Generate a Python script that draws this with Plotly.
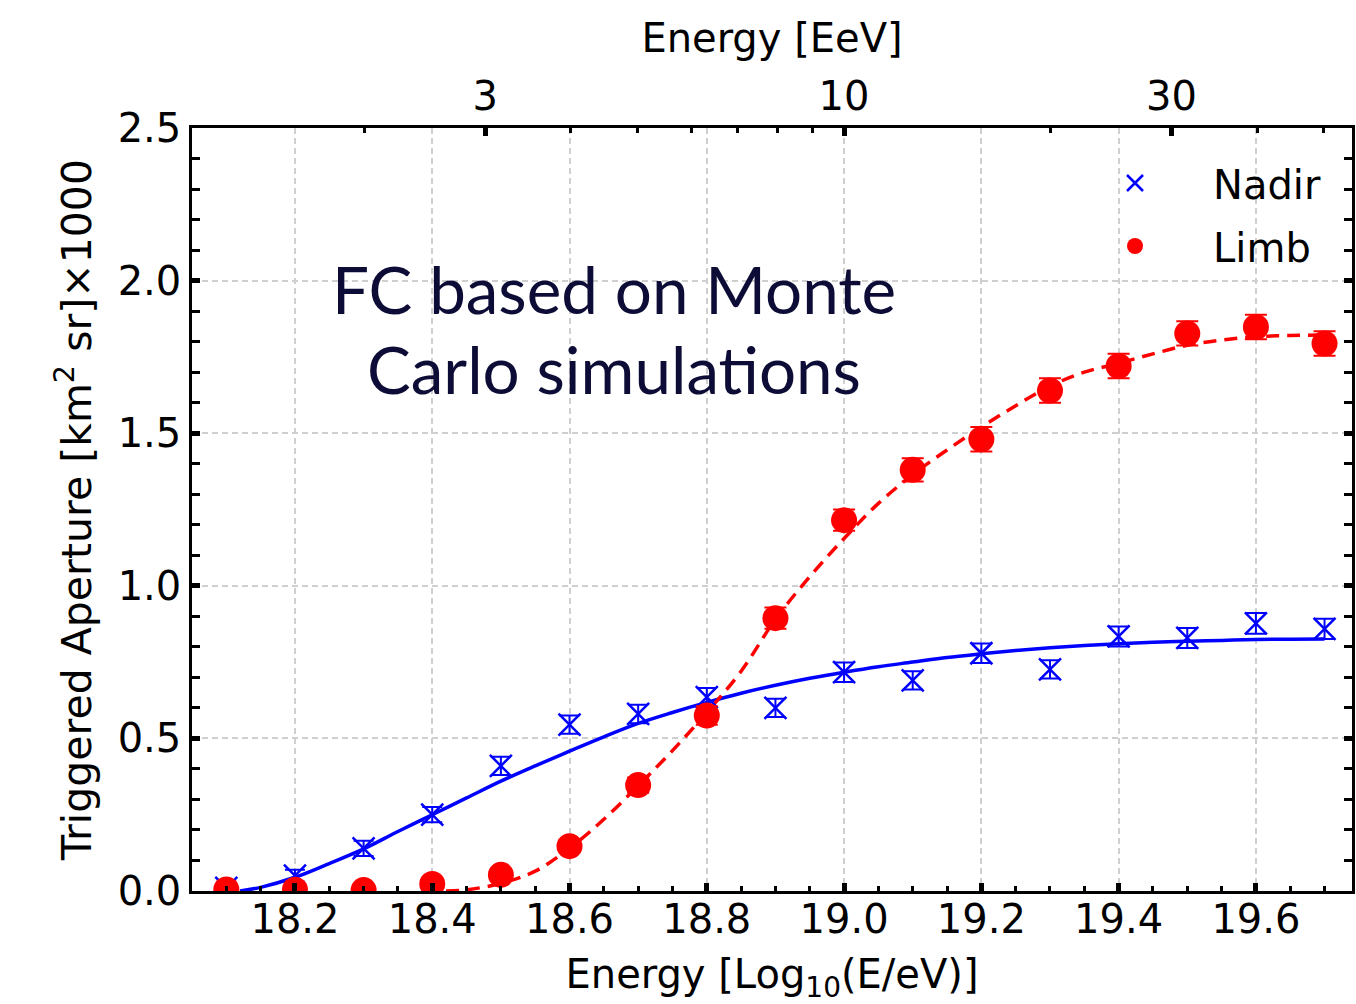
import numpy as np
import plotly.graph_objects as go

# ---------------- data ----------------
energy = [18.1, 18.2, 18.3, 18.4, 18.5, 18.6, 18.7, 18.8, 18.9,
          19.0, 19.1, 19.2, 19.3, 19.4, 19.5, 19.6, 19.7]

nadir = [0.01, 0.05, 0.14, 0.25, 0.41, 0.545, 0.58, 0.635, 0.60,
         0.717, 0.69, 0.779, 0.726, 0.834, 0.829, 0.877, 0.859]
nadir_err = [0.02, 0.02, 0.025, 0.025, 0.03, 0.03, 0.03, 0.03, 0.03,
             0.032, 0.03, 0.032, 0.03, 0.033, 0.033, 0.034, 0.033]

limb = [0.005, 0.004, 0.003, 0.023, 0.053, 0.147, 0.347, 0.575, 0.894,
        1.215, 1.38, 1.48, 1.64, 1.72, 1.827, 1.848, 1.794]
limb_err = [0.005, 0.005, 0.005, 0.01, 0.015, 0.02, 0.025, 0.03, 0.035,
            0.035, 0.038, 0.04, 0.04, 0.04, 0.04, 0.04, 0.04]

nadir_fit_x = [18.12, 18.15, 18.2, 18.25, 18.3, 18.35, 18.4, 18.45, 18.5,
               18.55, 18.6, 18.65, 18.7, 18.75, 18.8, 18.85, 18.9, 18.95,
               19.0, 19.05, 19.1, 19.15, 19.2, 19.25, 19.3, 19.35, 19.4,
               19.45, 19.5, 19.55, 19.6, 19.65, 19.7]
nadir_fit_y = [0.0, 0.012, 0.045, 0.09, 0.138, 0.195, 0.25, 0.305, 0.36,
               0.41, 0.458, 0.505, 0.549, 0.585, 0.618, 0.648, 0.674, 0.697,
               0.717, 0.735, 0.75, 0.765, 0.777, 0.788, 0.797, 0.804, 0.81,
               0.815, 0.818, 0.821, 0.824, 0.825, 0.826]

limb_fit_x = [18.42, 18.45, 18.5, 18.55, 18.6, 18.65, 18.7, 18.75, 18.8,
              18.85, 18.9, 18.95, 19.0, 19.05, 19.1, 19.15, 19.2, 19.25,
              19.3, 19.35, 19.4, 19.45, 19.5, 19.55, 19.6, 19.65, 19.7]
limb_fit_y = [0.0, 0.004, 0.025, 0.065, 0.14, 0.235, 0.345, 0.46, 0.585,
              0.72, 0.89, 1.03, 1.155, 1.27, 1.364, 1.445, 1.52, 1.59,
              1.654, 1.70, 1.729, 1.76, 1.788, 1.805, 1.816, 1.82, 1.822]

top_major_eev = [3, 10, 30]
top_minor_eev = [2, 4, 5, 6, 7, 8, 9, 20, 40, 50]

x_range = [18.05, 19.74]
y_range = [0.0, 2.5]

FONT = "DejaVu Sans"
FS = 40

fig = go.Figure()

# fit curves
fig.add_trace(go.Scatter(
    x=nadir_fit_x, y=nadir_fit_y, mode="lines", line_shape="spline",
    line=dict(color="#0000ff", width=3.5), showlegend=False, hoverinfo="skip"))
fig.add_trace(go.Scatter(
    x=limb_fit_x, y=limb_fit_y, mode="lines", line_shape="spline",
    line=dict(color="#ff0000", width=3.5, dash="13px,8px"),
    showlegend=False, hoverinfo="skip"))

# data points
fig.add_trace(go.Scatter(
    x=energy, y=nadir, mode="markers", name="Nadir", legendgroup="n",
    marker=dict(symbol="x-thin", size=22, color="#0000ff",
                line=dict(color="#0000ff", width=2.5)),
    error_y=dict(type="data", array=nadir_err, color="#0000ff",
                 thickness=2, width=10)))
fig.add_trace(go.Scatter(
    x=energy, y=limb, mode="markers", name="Limb", legendgroup="l",
    marker=dict(symbol="circle", size=26, color="#ff0000"),
    error_y=dict(type="data", array=limb_err, color="#ff0000",
                 thickness=2, width=11)))

# helper trace so the top energy axis is drawn
fig.add_trace(go.Scatter(
    x=energy, y=nadir, xaxis="x2", mode="lines", opacity=0,
    showlegend=False, hoverinfo="skip"))

top_major = [np.log10(v * 1e18) for v in top_major_eev]
top_minor = [np.log10(v * 1e18) for v in top_minor_eev]

fig.update_layout(
    width=1356, height=1004,
    margin=dict(l=192, r=4, t=128, b=113),
    paper_bgcolor="white", plot_bgcolor="white",
    font=dict(family=FONT, size=FS, color="black"),
    xaxis=dict(
        range=x_range, tick0=18.0, dtick=0.2, tickformat=".1f",
        ticks="inside", ticklen=8, tickwidth=4.5, tickcolor="black",
        showline=True, linecolor="black", linewidth=2.5, mirror=False,
        showgrid=True, gridcolor="#cfcfcf", gridwidth=1.5, griddash="6px,4px",
        zeroline=False, ticklabelstandoff=-9,
        minor=dict(dtick=0.05, tick0=18.0, ticks="inside", ticklen=5,
                   tickwidth=2.5, tickcolor="black", showgrid=False),
        title=dict(text="Energy [Log<sub>10</sub>(E/eV)]", standoff=20,
                   font=dict(size=FS)),
        automargin=False),
    xaxis2=dict(
        overlaying="x", side="top", range=x_range,
        tickmode="array", tickvals=top_major,
        ticktext=[str(v) for v in top_major_eev],
        ticks="inside", ticklen=8, tickwidth=4.5, tickcolor="black",
        showline=True, linecolor="black", linewidth=2.5,
        showgrid=False, zeroline=False, ticklabelstandoff=-1,
        minor=dict(tickmode="array", tickvals=top_minor, ticks="inside",
                   ticklen=5, tickwidth=2.5, tickcolor="black",
                   showgrid=False),
        title=dict(text="Energy [EeV]", standoff=9, font=dict(size=FS)),
        automargin=False),
    yaxis=dict(
        range=y_range, tick0=0, dtick=0.5, tickformat=".1f",
        ticks="inside", ticklen=8, tickwidth=4.5, tickcolor="black",
        showline=True, linecolor="black", linewidth=2.5, mirror="allticks",
        showgrid=True, gridcolor="#cfcfcf", gridwidth=1.5, griddash="6px,4px",
        zeroline=False, ticklabelstandoff=0,
        minor=dict(dtick=0.1, ticks="inside", ticklen=5, tickwidth=2.5,
                   tickcolor="black", showgrid=False),
        title=dict(text="Triggered Aperture [km<sup>2</sup> sr]×1000",
                   standoff=14, font=dict(size=41)),
        automargin=False),
    legend=dict(
        x=0.7457, y=0.9705, xanchor="left", yanchor="top",
        bgcolor="rgba(0,0,0,0)", borderwidth=0, itemwidth=146,
        tracegroupgap=8, font=dict(size=FS, family=FONT)),
    annotations=[
        dict(text="FC based on Monte", xref="paper", yref="paper",
             x=0.3634, y=0.7903, xanchor="center", yanchor="middle",
             showarrow=False,
             font=dict(family="Lato", size=65.5, color="#0c0c36")),
        dict(text="Carlo simulations", xref="paper", yref="paper",
             x=0.3634, y=0.6854, xanchor="center", yanchor="middle",
             showarrow=False,
             font=dict(family="Lato", size=65.5, color="#0c0c36")),
    ],
)

fig.write_html("out.html", config={"displayModeBar": False},
               post_script="document.body.style.margin='0';")
